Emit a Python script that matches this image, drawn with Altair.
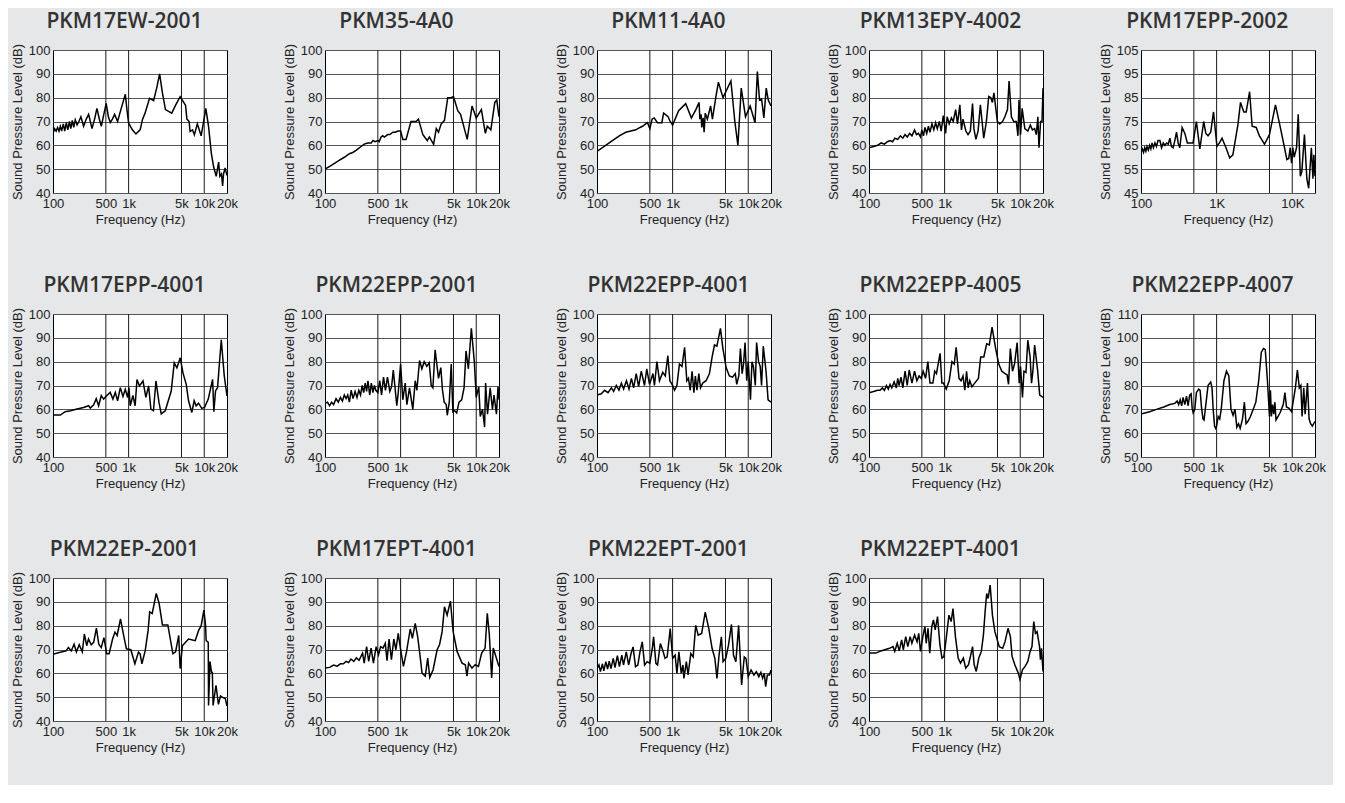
import altair as alt
import pandas as pd

# ---------------- data (frequency in Hz, level in dB) ----------------
titles = ["PKM17EW-2001", "PKM35-4A0", "PKM11-4A0", "PKM13EPY-4002", "PKM17EPP-2002",
          "PKM17EPP-4001", "PKM22EPP-2001", "PKM22EPP-4001", "PKM22EPP-4005", "PKM22EPP-4007",
          "PKM22EP-2001", "PKM17EPT-4001", "PKM22EPT-2001", "PKM22EPT-4001"]

f1 = [100,105,110,115,120,125,130,137,143,150,157,165,172,180,188,197,208,220,234,254,275,296,328,355,381,410,435,470,505,540,
      572,610,653,715,790,860,905,950,1000,1120,1250,1420,1530,1650,1890,2140,2350,2570,2800,3070,3720,4200,4800,5660,5900,6300,
      6500,7000,7400,8100,9100,10500,11400,12400,13300,14400,15500,16100,16900,17500,18000,18900,20000]
db1 = [65,67,66,67.5,66,68,66,69,66,69.5,66.5,70,67,70.5,67.5,70.7,68.6,70,72,68,71,73,67,71,75.5,71,68,73,77.6,72,
       69.6,71,73,70,75,79,81.4,75,69.3,66.5,64.8,66.5,71,73.5,79.7,78.8,84,90,82,75,73.5,77,80.4,76.8,71,70,
       65.8,66.5,64.4,69,64,75.5,68,56.7,51,47,53,47,48,43,48,50.5,47.3]

f2 = [100,120,150,180,210,233,260,300,330,368,408,430,460,500,520,552,580,610,640,676,720,790,850,920,1000,1070,1180,1370,1600,1720,
      1970,2250,2400,2730,2960,3170,3440,3800,4200,4650,5000,5700,6200,7600,8800,10000,11700,13200,14000,15600,17600,18700,20000]
db2 = [50,51.5,53.5,55,56.5,57,58,59.5,60.5,61,61,62,61.5,62,61.5,63.5,64,63.5,64,64.5,64.5,65.5,65.5,66,66,62.5,62.5,70,70,71,
       64.5,62,63.5,60.4,67,65.5,69,70.5,80,80,80.5,74.5,73,62.5,76.5,71.5,75,65,68,66.5,78,79,72]

f3 = [100,130,160,197,240,280,327,370,400,440,466,500,535,570,630,720,760,800,870,930,1000,1200,1490,1770,2030,2240,2290,2380,2430,2530,
      2610,2700,2880,3180,3360,3720,4030,4640,5900,6650,7300,8080,9200,10600,12300,13200,14100,15000,16100,17300,18400,20000]
db3 = [57.5,60,62,64,65.5,66,66.5,67.5,68,69,69.5,67,71,71.5,69.5,69.5,73.5,73,72,70,68.5,74.5,77.5,71.5,75,78,71,73,67.5,71.5,
       65.5,73.5,71,76.5,71,80,86.5,80,87,70,60,84,72,76.5,69.5,91,79,79.5,71.5,84,79,76.5]

f4 = [100,115,130,145,160,175,190,205,220,240,260,280,300,320,345,370,400,425,450,480,500,525,550,580,610,640,680,720,760,800,
      850,900,960,1030,1080,1150,1230,1300,1400,1480,1590,1670,1750,1910,2040,2190,2340,2440,2590,2770,2970,3130,3290,3570,3830,
      4090,4280,4490,4730,4980,5350,5840,6260,6780,7120,7640,8190,8870,9330,9630,10100,10600,11500,12600,13600,14500,15500,16300,
      17100,17700,18600,19400,20000]
db4 = [59,59.5,60,61,60.5,61.5,62,61.5,63,62.5,64,63,64.5,63.5,65,64,66.5,64.5,65,63.5,66.5,64,67.5,65,68,65.5,69,66.5,69.5,67,
       70,66,72.5,65,72,69,71.5,70,75,69,77,66.5,71,66,64.5,66,77.5,67,62.5,66,77,70,63,70,80.5,
       80,78,82,76,70,69,70,72,75,87,72,70,70,64,79,64.5,75.5,67,66,68.5,66.5,67,64.5,
       72,59,70,70,84]

f5 = [100,104,108,112,116,120,125,130,135,140,146,153,160,168,178,187,197,207,218,229,241,253,266,280,295,310,326,350,380,410,
      442,488,540,600,675,720,770,835,910,1010,1090,1180,1350,1490,1640,1920,2070,2290,2460,2730,2950,3340,3680,4300,5000,6000,
      6800,7900,8500,9000,9400,9800,10200,10600,11400,12000,12800,13400,14500,15600,16500,17900,18800,19300,20000]
db5 = [62.5,63.5,62,64,62.5,64.5,63,65,63.5,66,64,66,64.5,67,67,64,66,65,66,65.5,68,64.5,64,67,70.5,66,64,72.5,70,66,
       66,66,75,63.5,75,70,69,70.5,79,64.5,66,68,63.5,59.7,61,74,83,79,79,87.5,73,72.5,69,65.5,69.5,82,
       74,64,59,59.5,64,57.5,64,60,64,78,52,54,69.5,51,47,64,51,61,52]

f6 = [100,125,145,170,208,254,296,311,345,373,401,435,467,517,571,620,666,715,777,842,903,970,1010,1050,1140,1220,1290,1390,1550,1690,
      1840,1970,2130,2300,2520,2700,3050,3660,4010,4350,4820,5230,5780,6200,6850,7360,7810,8400,9290,10100,11300,12900,13400,14100,
      15000,16800,18400,20000]
db6 = [57.6,57.6,59,59.4,60.1,60.8,61.5,60.5,61.9,64.5,61.5,65.8,64.3,65.8,67.1,64.3,67.1,63.6,69.1,65.4,68.4,65,69.1,61.5,65.8,61.5,72.5,69.8,71.9,65,
       69.8,60.1,59.4,71.9,62.9,58.1,59.4,67.7,79.5,77.4,81.6,75.3,70.5,63.6,58.7,63.6,61.5,62.6,60.4,60.8,64.3,72.6,59,67.7,
       69.1,89.2,74,65.6]

f7 = [100,108,115,122,130,140,150,160,170,180,190,200,210,222,235,250,265,280,295,310,325,340,355,370,390,410,430,450,470,500,
      530,560,594,630,670,720,760,800,850,890,930,1000,1070,1150,1210,1310,1450,1560,1640,1780,1910,2050,2220,2390,2540,2670,2860,
      3170,3400,3580,3770,4010,4140,4400,4670,4910,5150,5520,5920,6420,6900,7330,7870,8620,9430,10000,10800,11300,12100,12900,
      13300,14100,15300,16400,17200,18500,19400,20000]
db7 = [62.5,63,61.5,63,62,64.5,63,65,63.5,66,64.5,66,63,68,64.5,67.5,65,68,66,70,67,71,67.5,72,66,71,67,70,68,67,
       72,66,73.5,68,73.5,67.5,69.5,76.5,68,61.5,67,79,64,71,62,69,60,72,68,80.5,77,80,78,79.5,70,69,85,
       73,77.5,68,63,62,57.5,63,79,59,59.5,58.5,63,64,69,84.5,77,94,80,65,69.5,57,60,52.5,
       71,58,69,60,66,58,69.5,64]

f8 = [100,114,126,140,155,166,180,195,210,225,245,265,285,305,330,355,385,425,455,495,550,575,620,670,740,800,865,920,1000,1060,
      1140,1230,1330,1440,1540,1620,1710,1810,1910,2000,2100,2220,2340,2500,2770,3070,3330,3580,3850,4290,4600,5100,5630,6200,
      6740,7050,7500,7880,8300,8660,9080,9550,10000,10700,11200,11700,12400,12900,13700,14400,15000,15800,17200,18300,20000]
db8 = [66,66.5,68,67,69,67.5,70,68,71,68.5,72,68.5,73,69,75,69.5,76,70,77,70.5,75,70,80,72,75.5,74,82.5,72,70,68,
       70,79,78,86,72,73,68,76,67,74,68,75,69,71,72,75,82,87,86.5,94,86,77.5,74,73.5,
       75,70.5,74,85.5,75,79,88,72,80,64,80,78,70,88,80,78,70,86.5,76,64,63]

f9 = [100,115,130,140,150,160,170,180,190,200,215,230,240,250,265,280,300,320,340,370,400,430,460,490,520,560,600,640,700,740,
      780,871,920,960,1000,1050,1150,1250,1340,1420,1550,1650,1750,1850,1950,2050,2150,2300,2500,2800,3000,3300,3600,3900,4240,
      4700,5200,5700,6300,6700,7000,7400,7900,8400,9100,9700,10100,10700,11200,11900,12600,13500,14100,14700,15500,16900,18100,20000]
db9 = [67,67.5,68,68,69,68,70,68.5,70.5,69,71.5,69,73,70,73.5,69,76,70,76.5,71,76,72,74,73,76,73,80,71,71,76,
       75,83.5,71,71,70,68.5,72,80,79,86,73,72,74,68,76,69,72,69.5,71,73,82,82,87.5,87,94.5,
       86,79,76,75,74.5,70.5,85.5,76,79,88,71,78,65,76,75.5,89,82,71,76,87,77,66,65]

f10 = [100,130,160,200,240,280,300,315,330,345,360,380,400,420,440,460,475,490,515,540,580,605,630,660,682,720,770,834,870,900,
       940,970,1000,1050,1100,1150,1250,1350,1450,1550,1650,1750,1850,1950,2050,2200,2330,2450,2600,2800,3050,3300,3600,3900,4170,
       4400,4700,5000,5150,5300,5500,5700,5900,6100,6500,7000,7600,8000,8400,9000,9800,10500,11000,11700,12400,13000,13500,14200,
       14800,15900,16700,17500,18500,20000]
db10 = [68,69,70,71,72,72.5,73.5,72,74,71.5,75,72,75.5,71.5,76,76.5,70.5,68.5,70,77,78.5,78,71,66,65.5,72,80,81.5,79,70,
        63,62,63,67,66,70,82,86,84,70,67.5,70,62.5,64,62,66,73,64,65,67,70,73,82,94,95.5,
        95,82,67,78,67,72,68,73,65.5,67,69,72,77,71,70.5,69,75,79,86.5,79,80,67,79,
        68,81,66,64,63,65]

f11 = [100,121,149,160,174,190,204,222,244,260,279,295,320,345,375,403,434,472,513,552,615,660,705,781,859,935,1070,1210,1350,1420,
       1500,1660,1810,1900,2050,2160,2320,2530,2800,3300,3850,4180,4600,4800,5150,6200,7600,8400,9100,9900,10400,10600,11300,11400,
       11900,12500,12800,13100,14300,15400,16400,17700,19000,20000]
db11 = [68,68.7,69.4,70.8,69.4,72.2,69,72,69,76.5,71.6,74.4,72,73,79,72.2,70.8,75,68.2,68.2,74.5,77.3,75.9,82.8,75.9,70.3,69.9,64,68.9,68.2,
        64,69.6,78,85.8,85.1,88.6,93.5,89.4,80.3,80.3,68.2,69,75.9,62,71.6,74.4,73.7,77.9,79.9,86.5,80.3,73.7,73,46.5,
        65,60.4,60.4,46.5,55,47,50.5,49.8,49.4,46.3]

f12 = [100,115,130,145,160,175,190,205,220,240,260,282,314,330,355,378,407,437,475,511,544,584,627,661,703,756,813,866,930,1000,
       1090,1200,1340,1430,1560,1680,1790,1920,2120,2280,2430,2690,3040,3270,3540,3800,4120,4560,4950,5580,6490,7170,7540,7930,
       8770,9700,10700,11800,13100,14000,14900,16000,16800,20000]
db12 = [62.2,62.5,63.5,63,64,64,65,64.5,66,65,66.5,65.5,68.5,64.3,71.2,65,70.6,64.3,71.2,67.8,71.2,70.6,72.6,65.3,74.4,65.7,74.4,69.9,76.8,69.9,
        62.9,69.2,78.6,74.7,81,75.4,68.5,60.1,58.8,66.4,58.3,61.5,69.9,72,77.5,87.9,84.4,90.3,77.5,69.2,64.3,63.6,58.8,64.3,
        62.2,63.6,62.9,68.5,70.6,85.2,76.2,58.1,70.6,62.9]

f13 = [100,106,111,118,123,131,138,145,153,164,173,186,198,213,224,244,262,282,300,323,347,370,397,426,462,500,542,560,601,632,
       688,740,794,847,930,1000,1080,1140,1210,1300,1370,1410,1520,1600,1740,1870,2020,2180,2420,2700,3010,3330,3620,3860,4110,
       4410,4650,5050,5480,6000,6390,6870,7460,8170,8860,9330,10000,10900,11900,12800,13800,14700,15500,16300,17000,17900,19100,20000]
db13 = [62,63.5,60.7,64,61,64.9,61.8,65.1,62,66.3,62.4,67.4,62.8,67.6,63.5,69,63.5,68.3,71.1,62.8,63.5,69,73.2,63.5,64.9,64.2,71.1,75.3,64.2,63.5,
        72.5,69.7,66.3,66.9,78.8,66.3,67.6,60,69,60,63.5,57.9,64.9,59.3,68.3,66.9,80.1,76,76.7,85.7,78.8,70.4,66.3,57.9,67.6,
        75.3,64.9,66.3,71.8,80.5,67.6,64.9,80.1,55.1,66.9,66.3,58.6,61.4,59.3,60.7,58.6,60.4,57.9,60,54.4,59.3,59.3,61.4]

f14 = [100,123,144,169,187,208,219,236,251,270,284,306,326,350,369,401,432,455,479,515,549,571,603,636,676,712,750,806,867,923,
       977,1050,1140,1220,1290,1390,1510,1620,1770,1900,2070,2220,2340,2460,2620,2830,3060,3260,3430,3600,3760,4000,4290,4620,
       5280,5860,6300,6890,7410,7800,8480,9420,9920,10700,11600,12600,13500,14300,15100,15900,16700,18000,18500,19100,20000]
db14 = [68.5,68.5,69.4,70.1,70.5,71.2,69.2,72.6,69.4,74,69.9,75.4,71.2,75.4,72.6,76.1,73.3,76.8,69.2,75.4,79.6,72.6,78.9,68.5,79.6,82.4,78.2,83.8,71.9,66.4,
        67,74.7,84.4,81.7,87.2,75.4,66.4,64.3,66.4,62.2,63.6,67.8,71.2,63.6,60.8,66.4,69.2,76.1,85.8,93.5,91.4,97,84.4,77.5,
        71.2,70.5,73.3,78.9,75.4,67.1,63.6,60.1,57.4,61.5,62.9,65,69.2,71.2,81.7,76.8,77.5,71.2,65.7,70.5,60.8]

freqs = [f1, f2, f3, f4, f5, f6, f7, f8, f9, f10, f11, f12, f13, f14]
levels = [db1, db2, db3, db4, db5, db6, db7, db8, db9, db10, db11, db12, db13, db14]

y_domains = [[40, 100]] * 14
y_domains[4] = [45, 105]
y_domains[9] = [50, 110]

x_ticks_std = [100, 500, 1000, 5000, 10000, 20000]
x_ticks_alt = [100, 1000, 10000]
grid_freqs = [500, 1000, 5000, 10000]

LABEL_FONT = "Liberation Sans"


def make_panel(i):
    df = pd.DataFrame({"f": freqs[i], "db": levels[i]})
    gdf = pd.DataFrame({"f": grid_freqs})
    ylo, yhi = y_domains[i]
    if i == 4:
        xticks = x_ticks_alt
        expr = "datum.value >= 1000 ? format(datum.value / 1000, 'd') + 'K' : format(datum.value, 'd')"
    else:
        xticks = x_ticks_std
        expr = "datum.value >= 1000 ? format(datum.value / 1000, 'd') + 'k' : format(datum.value, 'd')"
    xscale = alt.Scale(type="log", domain=[100, 20000], nice=False)
    xaxis = alt.Axis(values=xticks, labelExpr=expr, title="Frequency (Hz)", grid=False,
                     ticks=False, domain=False, labelFlush=False, labelOverlap=False,
                     labelPadding=4, titlePadding=3)
    yaxis = alt.Axis(values=list(range(ylo, yhi + 1, 10)), title="Sound Pressure Level (dB)",
                     grid=True, gridColor="#555555", gridWidth=1, ticks=False, domain=False,
                     labelPadding=3, titlePadding=4, labelOverlap=False)
    yscale = alt.Scale(domain=[ylo, yhi], nice=False, zero=False)

    rules = alt.Chart(gdf).mark_rule(color="#1a1a1a", strokeWidth=1).encode(
        x=alt.X("f:Q", scale=xscale, axis=xaxis)
    )
    line = alt.Chart(df).mark_line(color="black", strokeWidth=1.5, clip=True).encode(
        x=alt.X("f:Q", scale=xscale, axis=xaxis),
        y=alt.Y("db:Q", scale=yscale, axis=yaxis),
    )
    return alt.layer(rules, line).properties(
        width=174, height=143,
        title=alt.TitleParams(titles[i], font="Open Sans", fontSize=21, fontWeight=600,
                              color="#333333", anchor="middle", frame="bounds", offset=11),
    )


charts = [make_panel(i) for i in range(14)]

chart = alt.concat(*charts, columns=5, spacing={"row": 47, "column": 44}).properties(
    padding={"left": 2, "top": 2, "right": 7, "bottom": 30},
    background="#e6e7e9",
).configure_view(
    stroke="black", strokeWidth=1, fill="white"
).configure_axis(
    labelFont=LABEL_FONT, labelFontSize=13, labelColor="#222222",
    titleFont=LABEL_FONT, titleFontSize=13, titleFontWeight="normal", titleColor="#222222",
)

chart.save("out.html", embed_options={"renderer": "svg", "actions": False})
